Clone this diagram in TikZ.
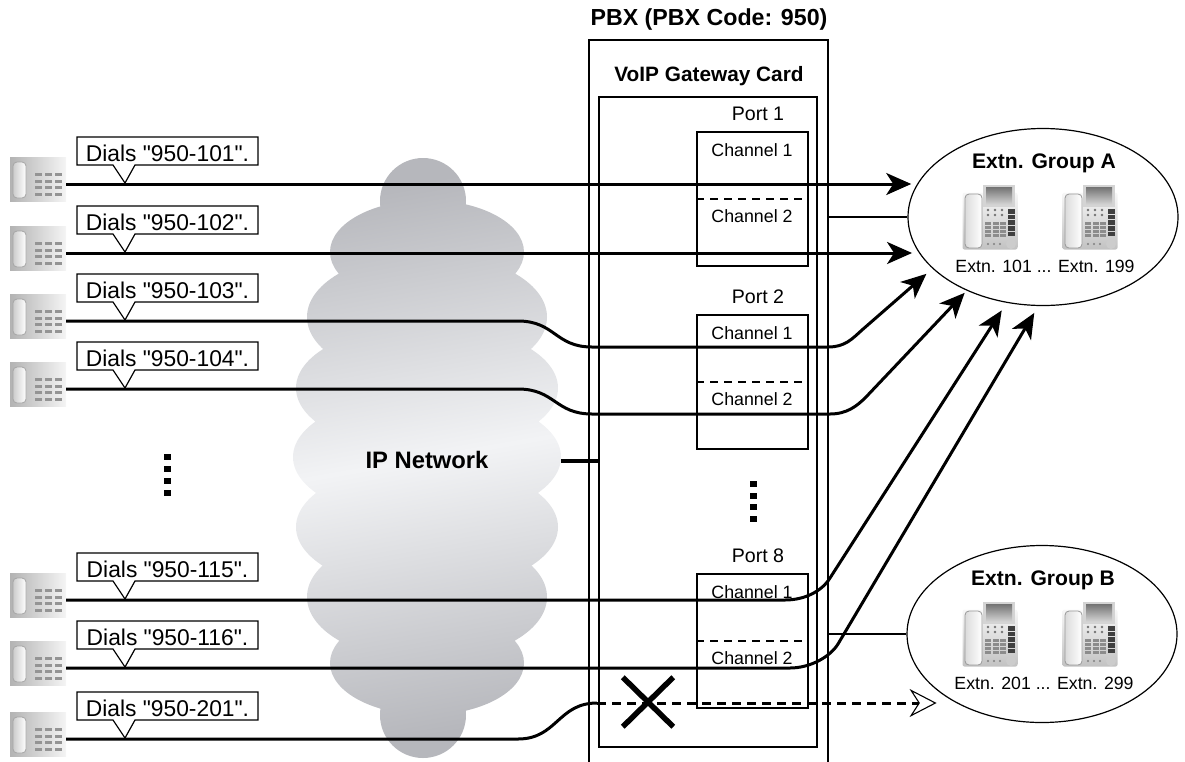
\documentclass[tikz,border=0pt]{standalone}
\usepackage{fontspec}
\setmainfont{Liberation Sans}
\usetikzlibrary{arrows.meta,shapes.geometric,shapes.misc}

\definecolor{cloudDark}{RGB}{182,183,188}
\definecolor{cloudLight}{RGB}{242,243,245}

\tikzstyle{callline}=[line width=3pt]
\tikzstyle{callarrow}=[-{Stealth[length=25pt,width=22pt,inset=7pt]}]
\tikzstyle{deadarrow}=[dash pattern=on 9pt off 6pt, -{Stealth[open,length=27pt,width=28pt,inset=9pt,line width=1.1pt]}]
\tikzstyle{thinbox}=[draw, line width=1.2pt, inner sep=0pt]
\tikzstyle{port}=[thinbox, minimum width=111pt, minimum height=134pt]
\tikzstyle{extgroup}=[thinbox, ellipse, minimum width=270pt, minimum height=177pt]
\tikzstyle{link}=[line width=1.2pt]
\tikzstyle{chsplit}=[line width=1.1pt, dash pattern=on 8pt off 6pt]
\tikzstyle{dialtext}=[font=\fontsize{22.8}{26}\selectfont, inner sep=0pt]
\tikzstyle{chtext}=[font=\fontsize{17.8}{20}\selectfont, inner sep=0pt]
\tikzstyle{porttext}=[font=\fontsize{19.6}{22}\selectfont, inner sep=0pt]
\tikzstyle{extntext}=[font=\fontsize{17.7}{20}\selectfont, inner sep=0pt]
\tikzstyle{pbxtitle}=[font=\bfseries\fontsize{23.2}{26}\selectfont, inner sep=0pt]
\tikzstyle{cardtitle}=[font=\bfseries\fontsize{20.8}{24}\selectfont, inner sep=0pt]
\tikzstyle{grptitle}=[font=\bfseries\fontsize{21.1}{24}\selectfont, inner sep=0pt]
\tikzstyle{nettext}=[font=\bfseries\fontsize{23.8}{27}\selectfont, inner sep=0pt]
\tikzstyle{phone}=[inner sep=0pt, minimum width=56pt, minimum height=44pt, left color=black!30, right color=black!4]
\tikzstyle{desk}=[inner sep=0pt, minimum width=55pt, minimum height=57pt, rounded corners=2pt, top color=black!3, bottom color=black!24]
\tikzstyle{nocall}=[cross out, draw, line width=5.5pt, minimum width=45pt, minimum height=44pt, inner sep=0pt]

\begin{document}
\begin{tikzpicture}[x=1pt, y=-1pt]
    \useasboundingbox (0,0) rectangle (1185,761);

    % IP network cloud
    \shade[top color=cloudDark, bottom color=cloudDark, middle color=cloudLight, shading angle=10]
        (423,201) circle[radius=43pt]
        (427,252) ellipse[x radius=97pt, y radius=52pt]
        (427,317) ellipse[x radius=120pt, y radius=64pt]
        (427,388) ellipse[x radius=131pt, y radius=64pt]
        (427,457) ellipse[x radius=134pt, y radius=64pt]
        (427,527) ellipse[x radius=131pt, y radius=64pt]
        (427,597) ellipse[x radius=120pt, y radius=64pt]
        (427,663) ellipse[x radius=97pt, y radius=52pt]
        (423,715) circle[radius=43pt];
    \node[nettext] (net) at (427,460) {IP Network};
    \coordinate (netR) at (561,461);

    % PBX and card
    \node[pbxtitle] (pbxlbl) at (709,19) {PBX (PBX Code: 950)};
    \node[thinbox, minimum width=239pt, minimum height=760pt] (pbx) at (708.5,420) {};
    \node[cardtitle] (cardlbl) at (709,76) {VoIP Gateway Card};
    \node[thinbox, minimum width=218pt, minimum height=650pt] (card) at (708,422) {};
    \draw[line width=4pt] (netR) -- (netR -| card.west);

    \foreach \name/\top/\num in {p1/132/1, p2/315/2, p8/574/8} {
        \node[port] (\name) at (752.5,\top+67) {};
        \draw[chsplit] (\name.west) -- (\name.east);
        \node[porttext] (pt\num) at (758,\top-18) {Port \num};
        \node[chtext] (cha\num) at (752,\top+18) {Channel 1};
        \node[chtext] (chb\num) at (752,\top+84.5) {Channel 2};
    }
    \foreach \y in {484,496,507,519}
        \fill (750,\y-3) rectangle (756.5,\y+3);
    \foreach \y in {457,469,481,493}
        \fill (164,\y-3) rectangle (170.5,\y+3);

    % extension groups
    \node[extgroup] (grpA) at (1043,217) {};
    \node[extgroup] (grpB) at (1042,634) {};
    \node[grptitle] (tA) at (1044,163) {Extn. Group A};
    \node[grptitle] (tB) at (1043,580) {Extn. Group B};
    \node[extntext] (eA) at (1045,266) {Extn. 101 ... Extn. 199};
    \node[extntext] (eB) at (1044,683) {Extn. 201 ... Extn. 299};

    \foreach \px/\py/\name in {990/221/ka1, 1090/221/ka2, 990/638/kb1, 1090/638/kb2} {
        \node[desk] (\name) at (\px,\py) {};
        \begin{scope}[shift={(\px,\py)}]
            \fill[black!17] (-7,-36) rectangle (25,-14);
            \fill[top color=black!55, bottom color=black!18] (-4,-34) rectangle (22,-17);
            \draw[black!40, line width=0.8pt, rounded corners=4pt, left color=black!14, right color=white] (-25,-27) rectangle (-8,27);
            \foreach \kx in {-2,5,12}
                \foreach \ky in {-11,-6}
                    \fill[black!55] (\kx,\ky) circle[radius=1.3pt];
            \foreach \kx in {-5,2.5,10}
                \foreach \ky in {1,5,9,13}
                    \fill[black!45] (\kx,\ky) rectangle ++(6,2.8);
            \foreach \ky in {-12,-6.3,-0.6,5.1,10.8}
                \fill[black!75] (18,\ky) rectangle ++(7,4.6);
            \foreach \kx in {-2,4,10}
                \fill[black!50] (\kx,23) circle[radius=1.2pt];
            \fill[black!20] (21,23) circle[radius=5pt];
        \end{scope}
    }
    \draw[link] (pbx.east |- grpA.west) -- (grpA.west);
    \draw[link] (pbx.east |- grpB.west) -- (grpB.west);

    % calling phones
    \foreach \n/\ly/\num in {1/184/101, 2/253/102, 3/321/103, 4/389/104, 5/600/115, 6/668/116, 7/739/201} {
        \node[phone] (ph\n) at (38,\ly-5) {};
        \begin{scope}[shift={(38,\ly-5)}]
            \draw[black!35, line width=0.8pt, rounded corners=4pt, left color=black!20, right color=white] (-25,-17) rectangle (-12,19);
            \foreach \kx in {-3,7,17}
                \foreach \ky in {-6,0.5,7,13.5}
                    \fill[black!42] (\kx,\ky) rectangle ++(7,3);
        \end{scope}
        \coordinate (s\n) at (66,\ly);
    }

    % connect phones to groups
    \draw[callline, callarrow, shorten >=5pt] (s1) -- (s1 -| grpA.166);
    \draw[callline, callarrow, shorten >=8pt] (s2) -- (s2 -| grpA.197);
    \draw[callline, callarrow, shorten >=8pt] (s3) -- (518,321) .. controls (555,321) and (555,347) .. (592,347)
        -- (828,347) .. controls (845,347) and (852,339) .. (862,330) -- (grpA.205);
    \draw[callline, callarrow, shorten >=3pt] (s4) -- (518,389) .. controls (555,389) and (555,414) .. (592,414)
        -- (830,414) .. controls (847,414) and (857,406) .. (866,397) -- (grpA.224);
    \draw[callline, callarrow, shorten >=9pt] (s5) -- (785,600) .. controls (805,600) and (822,591) .. (830,578) -- (grpA.247);
    \draw[callline, callarrow, shorten >=8pt] (s6) -- (790,668) .. controls (810,668) and (830,657) .. (838,644) -- (grpA.267);
    \coordinate (c7) at (597,703);
    \draw[callline] (s7) -- (518,739) .. controls (557,739) and (558,703) .. (c7);
    \draw[callline, deadarrow, shorten >=9pt] (c7) -- (c7 -| grpB.213);
    \node[nocall] (block) at (648,702) {};

    % dialled numbers
    \foreach \n/\ly/\num in {1/184/101, 2/253/102, 3/321/103, 4/389/104, 5/600/115, 6/668/116, 7/739/201} {
        \filldraw[fill=white, link] (77,\ly-47) -- (258,\ly-47) -- (258,\ly-19) -- (135,\ly-19)
            -- (125,\ly-1) -- (113,\ly-19) -- (77,\ly-19) -- cycle;
        \node[dialtext] (d\n) at (167.5,\ly-31) {Dials \textquotedbl 950-\num\textquotedbl.};
    }

\end{tikzpicture}
\end{document}
